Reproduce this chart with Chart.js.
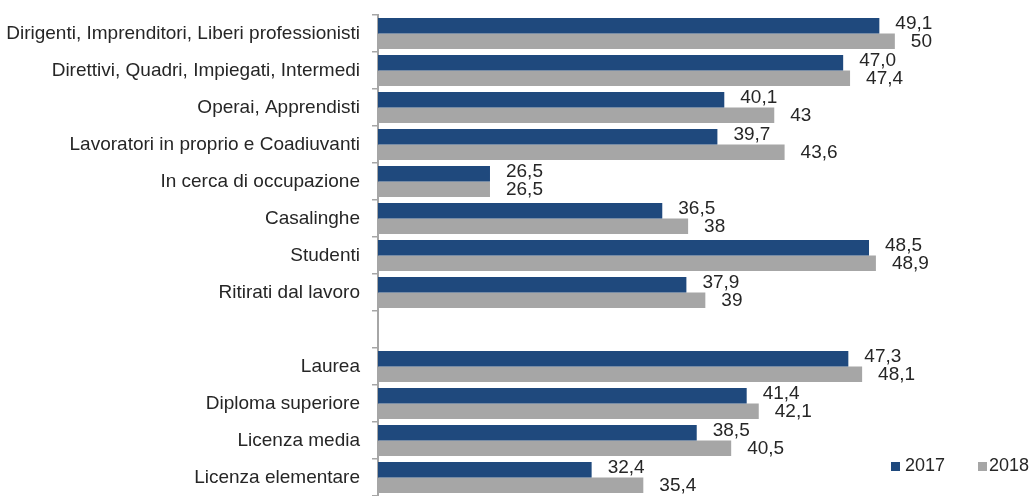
<!DOCTYPE html>
<html>
<head>
<meta charset="utf-8">
<script src="https://cdn.jsdelivr.net/npm/chart.js@4/dist/chart.umd.min.js"></script>
<style>
  html, body { margin: 0; padding: 0; background: #fff; }
  canvas { display: block; }
</style>
</head>
<body>
<canvas id="chart" width="1032" height="496"></canvas>
<script>
// categorie (riga vuota tra professione e titolo di studio)
const categories = [
    "Dirigenti, Imprenditori, Liberi professionisti",
    "Direttivi, Quadri, Impiegati, Intermedi",
    "Operai, Apprendisti",
    "Lavoratori in proprio e Coadiuvanti",
    "In cerca di occupazione",
    "Casalinghe",
    "Studenti",
    "Ritirati dal lavoro",
    "",
    "Laurea",
    "Diploma superiore",
    "Licenza media",
    "Licenza elementare"
];
const values2017 = [49.1, 47.0, 40.1, 39.7, 26.5, 36.5, 48.5, 37.9, null, 47.3, 41.4, 38.5, 32.4];
const values2018 = [50, 47.4, 43, 43.6, 26.5, 38, 48.9, 39, null, 48.1, 42.1, 40.5, 35.4];
const seriesNames = ["2017", "2018"];

const FONT = "'Liberation Sans', Arial, sans-serif";
const BLUE = "#1f497d";
const GRAY = "#a6a6a6";

let fmt = function (v, fixed) {
    let s = fixed ? v.toFixed(1) : String(v);
    return s.replace('.', ',');
}

const valueLabels = {
    id: 'valueLabels',
    afterDatasetsDraw(chart) {
        const ctx = chart.ctx;
        ctx.save();
        ctx.font = "19px " + FONT;
        ctx.fillStyle = "#262626";
        ctx.textAlign = "left";
        ctx.textBaseline = "middle";
        chart.data.datasets.forEach((ds, i) => {
            const meta = chart.getDatasetMeta(i);
            meta.data.forEach((bar, j) => {
                const v = ds.data[j];
                if (v === null) return;
                const dy = i === 0 ? -2 : 0;
                ctx.fillText(fmt(v, i === 0), bar.x + 16, bar.y + dy);
            });
        });
        ctx.restore();
    }
};

const cornerLegend = {
    id: 'cornerLegend',
    afterDraw(chart) {
        const ctx = chart.ctx;
        ctx.save();
        ctx.font = "18px " + FONT;
        ctx.textBaseline = "middle";
        ctx.fillStyle = BLUE;
        ctx.fillRect(891, 462, 9, 9);
        ctx.fillStyle = GRAY;
        ctx.fillRect(978, 462, 9, 9);
        ctx.fillStyle = "#262626";
        ctx.fillText(seriesNames[0], 905, 466);
        ctx.fillText(seriesNames[1], 989, 466);
        ctx.restore();
    }
};

new Chart(document.getElementById('chart'), {
    type: 'bar',
    data: {
        labels: categories,
        datasets: [
            { label: seriesNames[0], data: values2017, backgroundColor: BLUE },
            { label: seriesNames[1], data: values2018, backgroundColor: GRAY }
        ]
    },
    options: {
        indexAxis: 'y',
        responsive: false,
        animation: false,
        layout: { padding: { top: 15, bottom: 0, left: 0, right: 51 } },
        datasets: {
            bar: { categoryPercentage: 0.84, barPercentage: 1 }
        },
        plugins: {
            legend: { display: false },
            tooltip: { enabled: false }
        },
        scales: {
            x: {
                type: 'linear',
                min: 20,
                max: 55,
                display: false
            },
            y: {
                offset: true,
                afterFit(scale) {
                    scale.width = 378;
                    scale.paddingTop = 0;
                    scale.paddingBottom = 0;
                },
                border: { display: true, color: "#a6a6a6", width: 2 },
                grid: {
                    offset: true,
                    drawOnChartArea: false,
                    drawTicks: true,
                    tickLength: 6,
                    color: "#a6a6a6",
                    lineWidth: 1.5
                },
                ticks: {
                    color: "#262626",
                    padding: 12,
                    autoSkip: false,
                    font: { family: FONT, size: 19 }
                }
            }
        }
    },
    plugins: [valueLabels, cornerLegend]
});
</script>
</body>
</html>
